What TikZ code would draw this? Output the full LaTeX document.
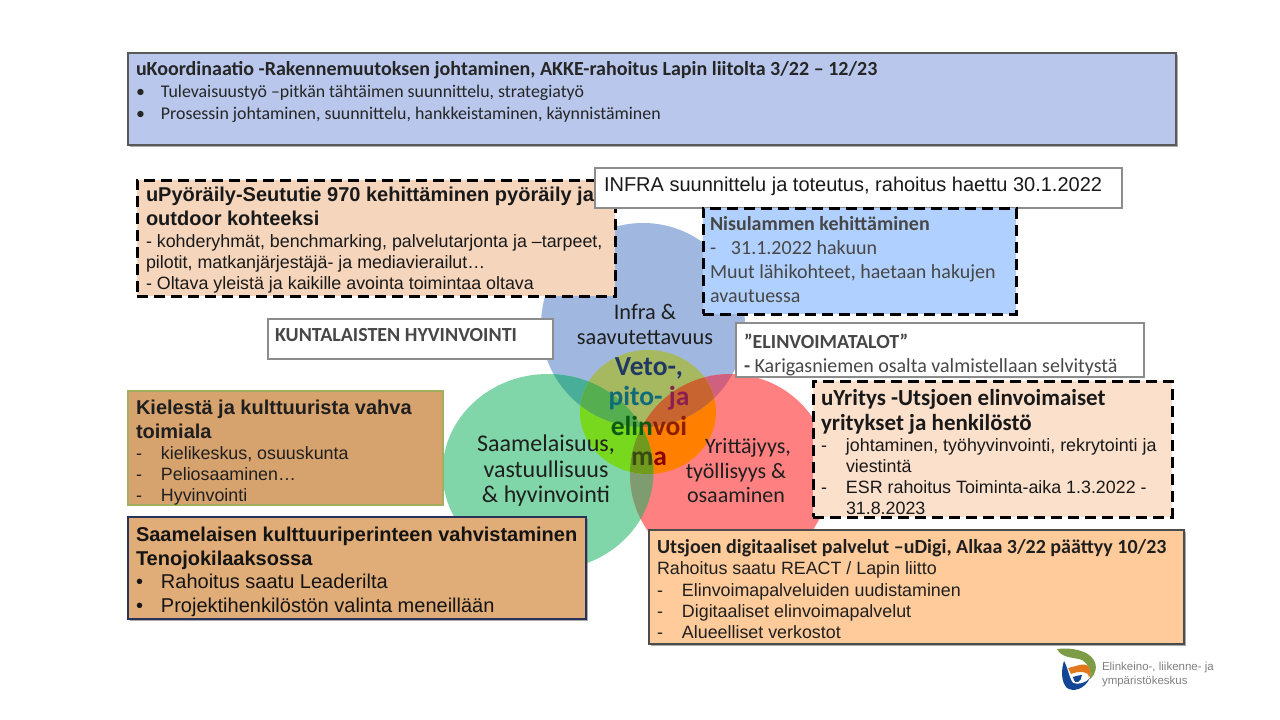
\documentclass[tikz,border=0pt]{standalone}
\usepackage{fontspec}
\setmainfont{Carlito}
\newfontfamily\arialf{Liberation Sans}
\usetikzlibrary{shadows}
\definecolor{txt}{HTML}{262626}
\definecolor{navy}{HTML}{28325A}
\definecolor{vB}{HTML}{A0B8E0}
\definecolor{vG}{HTML}{80D6A8}
\definecolor{vR}{HTML}{FF8080}
\definecolor{vBG}{HTML}{48AE9A}
\definecolor{vBR}{HTML}{D0607F}
\definecolor{vGR}{HTML}{7F9B70}
\definecolor{cB}{HTML}{A6B860}
\definecolor{cG}{HTML}{78D81E}
\definecolor{cR}{HTML}{FF8000}
\definecolor{cBG}{HTML}{55AE50}
\definecolor{cBR}{HTML}{C8642F}
\definecolor{cGR}{HTML}{6F9A1E}
\definecolor{logoG}{HTML}{7C9C46}
\definecolor{logoB}{HTML}{144696}
\definecolor{logoO}{HTML}{E2781E}
\definecolor{fTop}{HTML}{B8C7EB}
\definecolor{fPyora}{HTML}{F5D5BC}
\definecolor{fNisu}{HTML}{B0D0FF}
\definecolor{fYritys}{HTML}{FBE0CC}
\definecolor{fKieli}{HTML}{D6A36E}
\definecolor{lKieli}{HTML}{A0B060}
\definecolor{fSaame}{HTML}{E0AC78}
\definecolor{fUts}{HTML}{FFCB9A}
\newcommand{\fs}[2]{\fontsize{#1}{#2}\selectfont}
\newcommand{\dd}[2]{\makebox[#1][l]{#2}}
\newcommand{\hb}[1]{\fontsize{20}{24}\selectfont\bfseries #1}
\newcommand{\hc}[1]{\fontsize{23}{24}\selectfont\bfseries #1}
\newcommand{\bd}[1]{\fontsize{17.85}{24}\selectfont #1}
\newcommand{\be}[1]{\fontsize{20}{24}\selectfont #1}
\newcommand{\pblue}{(643,325) circle [radius=102]}
\newcommand{\pgreen}{(548,472) ellipse [x radius=105.5,y radius=98]}
\newcommand{\pred}{(730,474) circle [radius=100]}
\newcommand{\pcore}{(648,412) ellipse [x radius=68,y radius=62]}
\tikzset{
 panel/.style={rectangle,anchor=north west,inner sep=0pt,outer sep=0pt},
 dashbox/.style={panel,draw=black,line width=3pt,dash pattern=on 11pt off 6pt},
 plainbox/.style={panel,draw=black!45,line width=1.2pt,fill=white},
 shadebox/.style={panel,draw=#1,line width=1.6pt,drop shadow={shadow xshift=1.5pt,shadow yshift=-1.5pt,fill=black!55,opacity=.6}},
 copy/.style={anchor=north west,inner sep=0pt,outer sep=0pt,align=left,text=txt},
 venn/.style={anchor=center,inner sep=0pt,align=center,text=black!88},
}
\begin{document}
\begin{tikzpicture}[x=1pt,y=-1pt]
\useasboundingbox (0,0) rectangle (1280,720);
\fill[white] (0,0) rectangle (1280,720);
% Venn base
\fill[vB] \pblue;
\fill[vG] \pgreen;
\fill[vR] \pred;
\begin{scope}\clip \pblue; \fill[vBG] \pgreen; \fill[vBR] \pred; \end{scope}
\begin{scope}\clip \pgreen; \fill[vGR] \pred; \end{scope}
\begin{scope}\clip \pcore;
 \fill[cR] \pred;
 \fill[cG] \pgreen;
 \fill[cB] \pblue;
 \begin{scope}\clip \pblue; \fill[cBG] \pgreen; \fill[cBR] \pred; \end{scope}
 \begin{scope}\clip \pgreen; \fill[cGR] \pred; \end{scope}
\end{scope}
% Venn labels
\node[venn,font=\fs{22.3}{25}] (infra) at (645,324) {Infra \&\\saavutettavuus};
\node[venn,font=\fs{24}{25.5}] (saame) at (546,471) {Saamelaisuus,\\vastuullisuus\\\& hyvinvointi};
\node[venn,font=\fs{22}{24.5}] (yritt) at (736,471) {\hspace*{24pt}Yrittäjyys,\\työllisyys \&\\osaaminen};
\node[venn,font=\bfseries\fs{27.5}{30}] (core) at (649,412) {\textcolor[HTML]{1F3864}{Veto-,}\\\textcolor[HTML]{0F6B7A}{pito-} \textcolor[HTML]{8B2050}{ja}\\\textcolor[HTML]{0B5A10}{elin}\textcolor[HTML]{8B1F00}{voi}\\\textcolor[HTML]{3A4A10}{m}\textcolor[HTML]{8B0000}{a}};
% Top box
\node[shadebox=black!65,fill=fTop,minimum width=1048pt,minimum height=92pt] (topbox) at (128,53) {};
\node[copy,font=\fs{18}{22}] (toptext) at (136,61.5) {\hb{uKoordinaatio -Rakennemuutoksen johtaminen, AKKE-rahoitus Lapin liitolta 3/22 – 12/23}\\
\bd{\dd{25pt}{•}Tulevaisuustyö –pitkän tähtäimen suunnittelu, strategiatyö}\\
\bd{\dd{25pt}{•}Prosessin johtaminen, suunnittelu, hankkeistaminen, käynnistäminen}};
% Pyoraily
\node[dashbox,fill=fPyora,minimum width=478pt,minimum height=116pt] (pyora) at (137,180) {};
\node[copy,text=black!90,font=\arialf\fs{18}{21}] (pyoratext) at (146,187.5) {\hb{uPyöräily-Seututie 970 kehittäminen pyöräily ja}\\[3pt]
\hb{outdoor kohteeksi}\\[1pt]
\bd{- kohderyhmät, benchmarking, palvelutarjonta ja –tarpeet,}\\
\bd{pilotit, matkanjärjestäjä- ja mediavierailut…}\\
\bd{- Oltava yleistä ja kaikille avointa toimintaa oltava}};
% Infra
\node[plainbox,minimum width=527pt,minimum height=40pt] (infrabox) at (595,168) {};
\node[copy,text=black!90,font=\arialf\fs{20}{22}] (infratext) at (604,177) {INFRA suunnittelu ja toteutus, rahoitus haettu 30.1.2022};
% Nisulammen
\node[dashbox,fill=fNisu,minimum width=313pt,minimum height=106pt] (nisu) at (703,208) {};
\node[copy,text=black!72,font=\fs{20}{24}] (nisutext) at (710,216.5) {\textbf{Nisulammen kehittäminen}\\
\dd{21pt}{-}31.1.2022 hakuun\\
Muut lähikohteet, haetaan hakujen\\
avautuessa};
% Kuntalaiset
\node[plainbox,minimum width=285pt,minimum height=40pt] (kunta) at (268,319) {};
\node[copy,text=black!72,font=\fs{20}{22}] (kuntatext) at (275,328) {\textbf{KUNTALAISTEN HYVINVOINTI}};
% Elinvoimatalot
\node[plainbox,minimum width=408pt,minimum height=54pt] (talot) at (736,323) {};
\node[copy,text=black!72,font=\fs{20}{24}] (talottext) at (744,334) {\textbf{”ELINVOIMATALOT”}\\
\textbf{-} Karigasniemen osalta valmistellaan selvitystä};
% uYritys
\node[dashbox,fill=fYritys,minimum width=359pt,minimum height=136pt] (yritys) at (813,381) {};
\node[copy,text=black!90,font=\fs{18}{21}] (yritystext) at (821,389.5) {\hc{uYritys -Utsjoen elinvoimaiset}\\[3.5pt]
\hc{yritykset ja henkilöstö}\\[0.5pt]
\bd{\arialf\dd{25pt}{-}johtaminen, työhyvinvointi, rekrytointi ja}\\
\bd{\arialf\dd{25pt}{}viestintä}\\
\bd{\arialf\dd{25pt}{-}ESR rahoitus Toiminta-aika 1.3.2022 -}\\
\bd{\arialf\dd{25pt}{}31.8.2023}};
% Kielesta
\node[panel,draw=lKieli,line width=1.2pt,fill=fKieli,minimum width=315pt,minimum height=114pt] (kieli) at (128,391) {};
\node[copy,text=black!88,font=\arialf\fs{18}{21}] (kielitext) at (136,400) {\hb{Kielestä ja kulttuurista vahva}\\[3pt]
\hb{toimiala}\\
\bd{\dd{25pt}{-}kielikeskus, osuuskunta}\\
\bd{\dd{25pt}{-}Peliosaaminen…}\\
\bd{\dd{25pt}{-}Hyvinvointi}};
% Saamelaisen
\node[shadebox=navy,fill=fSaame,minimum width=458pt,minimum height=102pt] (saamelaisen) at (128,517) {};
\node[copy,text=black!92,font=\arialf\fs{18}{23.7}] (saamelaisentext) at (136,527) {\hb{Saamelaisen kulttuuriperinteen vahvistaminen}\\
\hb{Tenojokilaaksossa}\\
\be{\dd{25pt}{•}Rahoitus saatu Leaderilta}\\
\be{\dd{25pt}{•}Projektihenkilöstön valinta meneillään}};
% Utsjoen
\node[shadebox=black!70,fill=fUts,minimum width=535pt,minimum height=114pt] (utsjoki) at (649,530) {};
\node[copy,text=black!88,font=\arialf\fs{18}{21.3}] (utsjokitext) at (657,539.5) {{\rmfamily\hb{Utsjoen digitaaliset palvelut –uDigi, Alkaa 3/22 päättyy 10/23}}\\
\bd{Rahoitus saatu REACT / Lapin liitto}\\
\bd{\dd{25pt}{-}Elinvoimapalveluiden uudistaminen}\\
\bd{\dd{25pt}{-}Digitaaliset elinvoimapalvelut}\\
\bd{\dd{25pt}{-}Alueelliset verkostot}};
% Logo
\fill[logoG] (1057,649) .. controls (1072,647) and (1088,651) .. (1093,659) .. controls (1098,666) and (1096,674) .. (1090,679) .. controls (1091,672) and (1090,665) .. (1082,660) .. controls (1075,657) and (1062,659) .. (1057,649) -- cycle;
\fill[logoB] (1064,661) .. controls (1061,670) and (1061,682) .. (1067,688) .. controls (1073,692) and (1084,690) .. (1090,678) .. controls (1086,683) and (1078,685) .. (1073,683) .. controls (1069,678) and (1068,668) .. (1064,661) -- cycle;
\fill[logoO] (1068,668) .. controls (1074,667) and (1082,663) .. (1087,665) .. controls (1091,668) and (1091,674) .. (1089,678) .. controls (1089,674) and (1086,672) .. (1083,672) .. controls (1079,672) and (1075,672) .. (1071,674) -- cycle;
\fill[logoB] (1073,677) .. controls (1076,676) and (1080,675) .. (1082,675) .. controls (1082,678) and (1080,681) .. (1078,682) .. controls (1076,683) and (1074,682) .. (1073,677) -- cycle;
\node[copy,text=black!50,font=\arialf\fs{11.5}{14}] (logotext) at (1102,662) {Elinkeino-, liikenne- ja\\ympäristökeskus};
\end{tikzpicture}
\end{document}
